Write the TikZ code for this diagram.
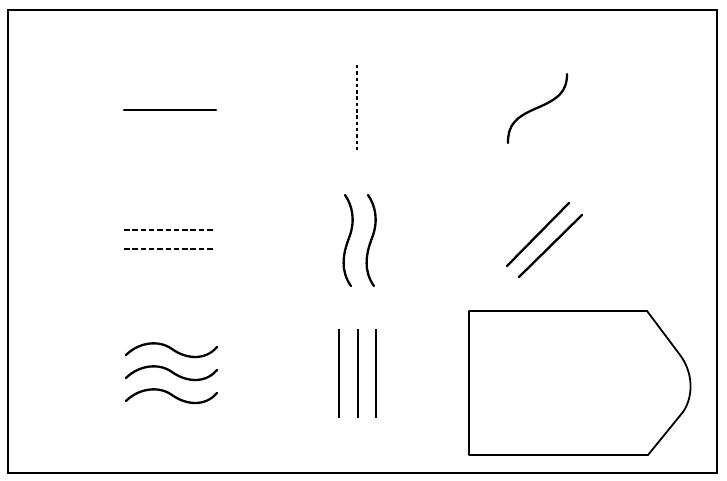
\documentclass[tikz,border=0pt]{standalone}
\usepackage{tikz}
\usetikzlibrary{calc}

\begin{document}
\begin{tikzpicture}[
		x=1pt, y=-1pt,                     % Pixelkoordinaten
		rahmen/.style={line width=1.8pt},
		strich/.style={line width=2.3pt, line cap=round},
		punktiert/.style={strich, line cap=butt, dash pattern=on 3.5pt off 2.8pt},
		gestrichelt/.style={strich, line cap=butt, dash pattern=on 5.5pt off 2.8pt},
		umriss/.style={line width=1.8pt, line join=round}
		]
		
		\useasboundingbox (0,0) rectangle (727,481);
		
		% Rahmen
		\draw[rahmen] (8,10) rectangle (717,473);
		
		% 1. Reihe
		\draw[strich] (124,110) -- (216,110);
		\draw[punktiert] (357,65) -- (357,152);
		\draw[strich] (508,143) .. controls (508,124) and (516,117) .. (537,108)
			.. controls (558,99) and (567,92) .. (567,74);
		
		% 2. Reihe
		\draw[gestrichelt] (124,230) -- (214,230);
		\draw[gestrichelt] (124,249) -- (214,249);
		\draw[strich] (345,195) .. controls (352,205) and (356,220) .. (349,238)
			.. controls (342,256) and (341,272) .. (351,286);
		\draw[strich] (368,195) .. controls (375,205) and (379,220) .. (372,238)
			.. controls (365,256) and (364,272) .. (374,286);
		\draw[strich] (507,266) -- (569,203);
		\draw[strich] (519,277) -- (582,215);
		
		% 3. Reihe: Wellen
		\draw[strich] (126,355) .. controls (138,343) and (158,339) .. (172,349)
			.. controls (186,359) and (205,361) .. (217,347);
		\draw[strich] (126,378) .. controls (138,366) and (158,362) .. (172,372)
			.. controls (186,382) and (205,384) .. (217,370);
		\draw[strich] (126,401) .. controls (138,389) and (158,385) .. (172,395)
			.. controls (186,405) and (205,407) .. (217,393);
		
		% 3. Reihe: drei Senkrechte
		\draw[strich, line cap=butt] (339,329) -- (339,418);
		\draw[strich, line cap=butt] (358,329) -- (358,418);
		\draw[strich, line cap=butt] (376,329) -- (376,418);
		
		% 3. Reihe: Umriss
		\draw[umriss] (469,311) -- (647,311) -- (680,355)
			.. controls (693,372) and (694,396) .. (683,412)
			-- (648,455) -- (469,455) -- cycle;
		
	\end{tikzpicture}
\end{document}
